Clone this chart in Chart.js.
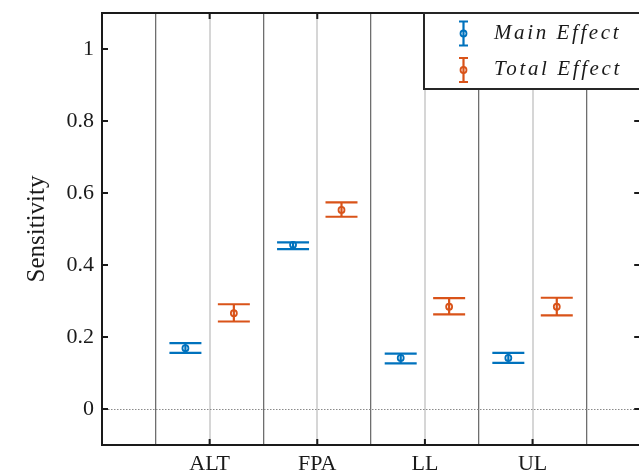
<!DOCTYPE html>
<html>
<head>
<meta charset="utf-8">
<script src="https://cdn.jsdelivr.net/npm/chart.js@4/dist/chart.umd.min.js"></script>
<style>
  html, body { margin: 0; padding: 0; overflow: hidden; background: #ffffff; }
  #wrap { width: 645px; height: 475px; }
</style>
</head>
<body>
<div id="wrap"><canvas id="c" width="645" height="475"></canvas></div>
<script>
// Sensitivity indices per parameter, with confidence bounds
const categories = ['ALT', 'FPA', 'LL', 'UL'];
const mainEffect = [0.169, 0.456, 0.142, 0.142];
const mainLower  = [0.156, 0.444, 0.127, 0.128];
const mainUpper  = [0.183, 0.463, 0.154, 0.156];
const totalEffect = [0.266, 0.553, 0.284, 0.284];
const totalLower  = [0.243, 0.534, 0.263, 0.260];
const totalUpper  = [0.291, 0.574, 0.308, 0.309];
const yTicks = [0, 0.2, 0.4, 0.6, 0.8, 1];
const legendLabels = ['Main Effect', 'Total Effect'];

const BLUE = '#0072BD';
const ORANGE = '#D95319';
const SERIF = '"Liberation Serif", "DejaVu Serif", serif';
const GROUP_OFFSET = 0.225;

function points(values, lower, upper, offset) {
  return values.map((v, i) => ({ x: i + 1 + offset, y: v, lo: lower[i], hi: upper[i] }));
}

// Vertical error bars with caps, drawn through the chart scales
const errorBars = {
  id: 'errorBars',
  beforeDatasetsDraw(chart) {
    const { ctx, scales: { x, y } } = chart;
    chart.data.datasets.forEach((ds, di) => {
      if (!chart.isDatasetVisible(di)) return;
      ctx.save();
      ctx.strokeStyle = ds.borderColor;
      ctx.lineWidth = 2.2;
      ds.data.forEach(p => {
        const px = x.getPixelForValue(p.x);
        const yl = y.getPixelForValue(p.lo);
        const yh = y.getPixelForValue(p.hi);
        const half = 16;
        ctx.beginPath();
        ctx.moveTo(px, yl); ctx.lineTo(px, yh);
        ctx.moveTo(px - half, yl); ctx.lineTo(px + half, yl);
        ctx.moveTo(px - half, yh); ctx.lineTo(px + half, yh);
        ctx.stroke();
      });
      ctx.restore();
    });
  }
};

// Axes box, inward ticks, zero reference line, y-axis title and legend
const frame = {
  id: 'frame',
  beforeDatasetsDraw(chart) {
    const { ctx, chartArea: a, scales: { y } } = chart;
    const y0 = y.getPixelForValue(0);
    ctx.save();
    ctx.strokeStyle = '#8a8a8a';
    ctx.lineWidth = 1;
    ctx.setLineDash([1.5, 1.5]);
    ctx.beginPath();
    ctx.moveTo(a.left, y0 + 0.5); ctx.lineTo(a.right, y0 + 0.5);
    ctx.stroke();
    ctx.restore();
  },
  afterDatasetsDraw(chart) {
    const { ctx, chartArea: a, scales: { x, y } } = chart;
    ctx.save();
    ctx.strokeStyle = '#1a1a1a';
    ctx.lineWidth = 2;
    ctx.strokeRect(a.left, a.top, a.right - a.left, a.bottom - a.top);
    const tl = 6;
    ctx.beginPath();
    yTicks.forEach(v => {
      const py = y.getPixelForValue(v);
      ctx.moveTo(a.left, py); ctx.lineTo(a.left + tl, py);
      ctx.moveTo(a.right, py); ctx.lineTo(a.right - tl, py);
    });
    categories.forEach((c, i) => {
      const px = x.getPixelForValue(i + 1);
      ctx.moveTo(px, a.bottom); ctx.lineTo(px, a.bottom - tl);
      ctx.moveTo(px, a.top); ctx.lineTo(px, a.top + tl);
    });
    ctx.stroke();

    // y-axis title
    ctx.fillStyle = '#1a1a1a';
    ctx.font = '25px ' + SERIF;
    ctx.textAlign = 'center';
    ctx.textBaseline = 'middle';
    ctx.translate(37, (a.top + a.bottom) / 2);
    ctx.rotate(-Math.PI / 2);
    ctx.fillText('Sensitivity', 0, 0);
    ctx.restore();

    // legend
    ctx.save();
    const bx = 424, by = a.top, bw = 240, bh = 76;
    ctx.fillStyle = '#ffffff';
    ctx.fillRect(bx, by, bw, bh);
    ctx.strokeStyle = '#262626';
    ctx.lineWidth = 2;
    ctx.strokeRect(bx, by, bw, bh);
    const rows = [33.5, 70];
    chart.data.datasets.forEach((ds, i) => {
      const cy = rows[i];
      const ix = 463.5;
      ctx.strokeStyle = ds.borderColor;
      ctx.lineWidth = 2.2;
      ctx.beginPath();
      ctx.moveTo(ix, cy - 12); ctx.lineTo(ix, cy + 12);
      ctx.moveTo(ix - 4.5, cy - 12); ctx.lineTo(ix + 4.5, cy - 12);
      ctx.moveTo(ix - 4.5, cy + 12); ctx.lineTo(ix + 4.5, cy + 12);
      ctx.stroke();
      ctx.lineWidth = 1.8;
      ctx.beginPath();
      ctx.arc(ix, cy, 3, 0, Math.PI * 2);
      ctx.stroke();
      ctx.fillStyle = '#1a1a1a';
      ctx.font = 'italic 21px ' + SERIF;
      ctx.textAlign = 'left';
      ctx.textBaseline = 'alphabetic';
      if ('letterSpacing' in ctx) ctx.letterSpacing = '2.6px';
      ctx.fillText(ds.label, 494, cy + 5);
    });
    ctx.restore();
  }
};

new Chart(document.getElementById('c'), {
  type: 'scatter',
  data: {
    datasets: [
      {
        label: legendLabels[0],
        data: points(mainEffect, mainLower, mainUpper, -GROUP_OFFSET),
        borderColor: BLUE,
        backgroundColor: 'rgba(255,255,255,0)',
        pointRadius: 3,
        pointBorderWidth: 1.8,
        pointHoverRadius: 3
      },
      {
        label: legendLabels[1],
        data: points(totalEffect, totalLower, totalUpper, GROUP_OFFSET),
        borderColor: ORANGE,
        backgroundColor: 'rgba(255,255,255,0)',
        pointRadius: 3,
        pointBorderWidth: 1.8,
        pointHoverRadius: 3
      }
    ]
  },
  options: {
    responsive: false,
    devicePixelRatio: 1,
    animation: false,
    events: [],
    layout: { padding: { top: 13, right: 3, bottom: 0, left: 0 } },
    plugins: { legend: { display: false }, tooltip: { enabled: false } },
    scales: {
      x: {
        type: 'linear',
        min: 0,
        max: 5,
        afterBuildTicks(scale) {
          const t = [];
          for (let v = 0; v <= 10; v++) t.push({ value: v / 2 });
          scale.ticks = t;
        },
        afterFit(scale) {
          scale.height = 30;
          scale.paddingLeft = 0; scale.paddingRight = 0;
          scale.paddingTop = 0; scale.paddingBottom = 0;
        },
        border: { display: false },
        grid: {
          drawTicks: false,
          color(ctx) {
            const v = ctx.tick ? ctx.tick.value : 0;
            if (v <= 0 || v >= 5) return 'rgba(0,0,0,0)';
            return Number.isInteger(v) ? '#d6d6d6' : '#6e6e6e';
          },
          lineWidth(ctx) {
            const v = ctx.tick ? ctx.tick.value : 0;
            return Number.isInteger(v) ? 2 : 1.3;
          }
        },
        ticks: {
          autoSkip: false,
          maxRotation: 0,
          padding: 6,
          color: '#1a1a1a',
          font: { family: SERIF, size: 22 },
          callback(v) {
            return (Number.isInteger(v) && v >= 1 && v <= categories.length) ? categories[v - 1] : '';
          }
        }
      },
      y: {
        min: -0.1,
        max: 1.1,
        afterBuildTicks(scale) { scale.ticks = yTicks.map(v => ({ value: v })); },
        afterFit(scale) {
          scale.width = 102;
          scale.paddingTop = 0; scale.paddingBottom = 0;
          scale.paddingLeft = 0; scale.paddingRight = 0;
        },
        border: { display: false },
        grid: { display: false, drawTicks: false },
        ticks: {
          padding: 8,
          color: '#1a1a1a',
          font: { family: SERIF, size: 22 },
          callback(v) { return String(Math.round(v * 10) / 10); }
        }
      }
    }
  },
  plugins: [errorBars, frame]
});
</script>
</body>
</html>
